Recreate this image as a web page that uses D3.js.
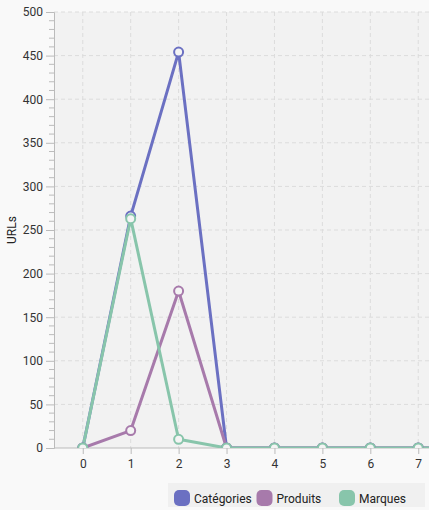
<!DOCTYPE html>
<html><head><meta charset="utf-8">
<script src="https://cdn.jsdelivr.net/npm/d3@7"></script>
<style>
html,body{margin:0;padding:0;background:#f9f9f9;}
svg{display:block;font-family:Roboto, sans-serif;}
</style></head>
<body>
<svg id="c" width="429" height="510"></svg>
<script>
const xValues = [0,1,2,3,4,5,6,7,8];
const seriesNames = ["Catégories","Produits","Marques"];
const categories = [0,266,454,0,0,0,0,0,0];
const produits   = [0,20,180,0,0,0,0,0,0];
const marques    = [0,263,10,0,0,0,0,0,0];
const colors = ["#6b70c2","#a77aab","#88c5ab"];
const yTicks = [0,50,100,150,200,250,300,350,400,450,500];
const xTicks = [0,1,2,3,4,5,6,7];

const svg = d3.select("#c");
const L=54, T=12, B=448, R=447;
const x = d3.scaleLinear().domain([-0.6,7.6]).range([L,R]);
const y = d3.scaleLinear().domain([0,500]).range([B,T]);

svg.append("defs").append("clipPath").attr("id","clip")
  .append("rect").attr("x",L).attr("y",T-6).attr("width",R-L).attr("height",B-T+6);

svg.append("rect").attr("x",L).attr("y",T).attr("width",R-L).attr("height",B-T).attr("fill","#f2f2f2");

// grid
const g = svg.append("g");
g.selectAll(".hg").data(yTicks.filter(d=>d>0)).enter().append("line")
  .attr("x1",L).attr("x2",R).attr("y1",d=>y(d)).attr("y2",d=>y(d))
  .attr("stroke","#dcdcdc").attr("stroke-dasharray","4,3");
g.selectAll(".vg").data(xTicks).enter().append("line")
  .attr("x1",d=>x(d)).attr("x2",d=>x(d)).attr("y1",T).attr("y2",B)
  .attr("stroke","#dcdcdc").attr("stroke-dasharray","4,3");

// y axis
const ya = svg.append("g").attr("transform",`translate(${L},0)`)
  .call(d3.axisLeft(y).tickValues(yTicks).tickSize(8).tickPadding(3));
ya.select(".domain").attr("stroke","#bbb");
ya.selectAll(".tick line").attr("stroke","#bbb");
ya.selectAll("text").attr("fill","#333").style("font-size","12px").style("font-family","Roboto");
const minor = d3.range(0,501,10).filter(d=>d%50!==0);
svg.append("g").selectAll("line").data(minor).enter().append("line")
  .attr("x1",L-5).attr("x2",L).attr("y1",d=>y(d)).attr("y2",d=>y(d)).attr("stroke","#bbb");

// x axis
const xa = svg.append("g").attr("transform",`translate(0,${B})`)
  .call(d3.axisBottom(x).tickValues(xTicks).tickSize(6).tickPadding(5).tickFormat(d3.format("d")));
xa.select(".domain").attr("stroke","#bbb").attr("d",`M${L},0H${R}`);
xa.selectAll(".tick line").attr("stroke","#bbb");
xa.selectAll("text").attr("fill","#333").style("font-size","12px").style("font-family","Roboto");

svg.append("text").attr("transform",`translate(16,${(T+B)/2}) rotate(-90)`)
  .attr("text-anchor","middle").attr("fill","#222").style("font-size","12px").text("URLs");

const data = [categories, produits, marques];
const plot = svg.append("g").attr("clip-path","url(#clip)");
const line = d3.line().x((d,i)=>x(xValues[i])).y(d=>y(d));
data.forEach((s,k)=>{
  plot.append("path").datum(s).attr("d",line).attr("fill","none")
    .attr("stroke",colors[k]).attr("stroke-width",3).attr("stroke-linejoin","round");
});
data.forEach((s,k)=>{
  plot.selectAll(".m"+k).data(s).enter().append("circle")
    .attr("cx",(d,i)=>x(xValues[i])).attr("cy",d=>y(d)).attr("r",4.5)
    .attr("fill","#f4f4f4").attr("stroke",colors[k]).attr("stroke-width",2);
});

// legend
const lg = svg.append("g");
lg.append("rect").attr("x",168).attr("y",483).attr("width",257).attr("height",24).attr("fill","#f0f0f0");
seriesNames.forEach((n,k)=>{
  const lx = 174 + k*82.5;
  lg.append("rect").attr("x",lx).attr("y",490).attr("width",16).attr("height",16).attr("rx",5)
    .attr("fill",colors[k]);
  lg.append("text").attr("x",lx+20).attr("y",502.5).attr("fill","#222")
    .style("font-size","12px").text(n);
});
</script>
</body></html>
